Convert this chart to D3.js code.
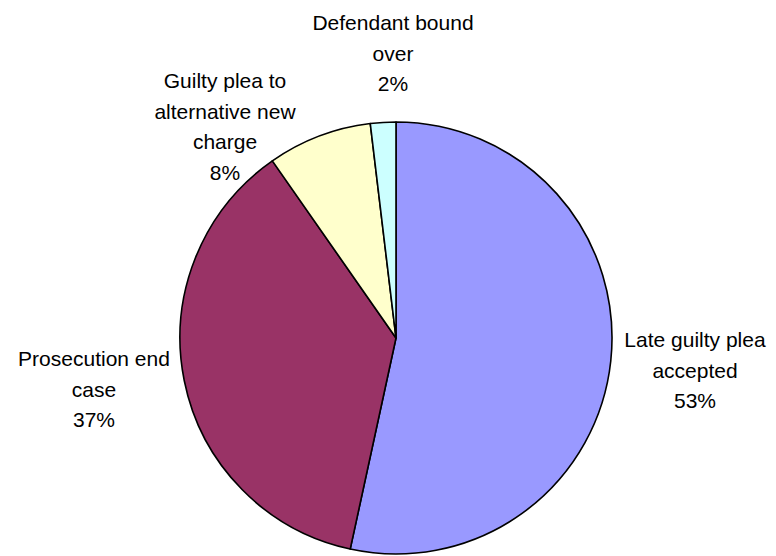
<!DOCTYPE html>
<html>
<head>
<meta charset="utf-8">
<script src="https://cdn.jsdelivr.net/npm/d3@7"></script>
<style>
  body { margin: 0; background: #ffffff; }
  svg { display: block; }
  .label { font-family: Arial, "Liberation Sans", sans-serif; font-size: 21px; fill: #000000; }
</style>
</head>
<body>
<svg></svg>
<script>
// data (clockwise from 12 o'clock)
var categories = [
    ["Late guilty plea", "accepted"],
    ["Prosecution end", "case"],
    ["Guilty plea to", "alternative new", "charge"],
    ["Defendant bound", "over"]
];
var shares = [53.4, 36.9, 7.8, 1.9];
var colors = ["#9999FF", "#993366", "#FFFFCC", "#CCFFFF"];

// where each label block sits (centre x, first baseline)
var labelPos = [[695, 347], [94, 366], [225, 88], [393, 30]];

var screen = {width:776, height:556};
var centre = {x:396, y:338};
var radius = 216;
var lineGap = 30.5;

var svg = d3.select("svg")
    .attr("width", screen.width)
    .attr("height", screen.height);

var pie = d3.pie()
    .sort(null)
    .value(function(d) { return d; });

var arc = d3.arc()
    .innerRadius(0)
    .outerRadius(radius);

var total = d3.sum(shares);

var g = svg.append("g")
    .attr("transform", "translate(" + centre.x + "," + centre.y + ")");

g.selectAll("path")
    .data(pie(shares))
    .enter()
    .append("path")
    .attr("d", arc)
    .attr("fill", function(d, i) { return colors[i]; })
    .attr("stroke", "#000000")
    .attr("stroke-width", 1.6)
    .attr("stroke-linejoin", "round");

var labels = svg.append("g").classed("labels", true);

categories.forEach(function(lines, i)
{
    var pct = Math.round(shares[i] / total * 100) + "%";
    var text = labels.append("text")
        .classed("label", true)
        .attr("text-anchor", "middle")
        .attr("x", labelPos[i][0])
        .attr("y", labelPos[i][1]);

    lines.concat([pct]).forEach(function(line, j)
    {
        text.append("tspan")
            .attr("x", labelPos[i][0])
            .attr("dy", j == 0 ? 0 : lineGap)
            .text(line);
    });
});
</script>
</body>
</html>
